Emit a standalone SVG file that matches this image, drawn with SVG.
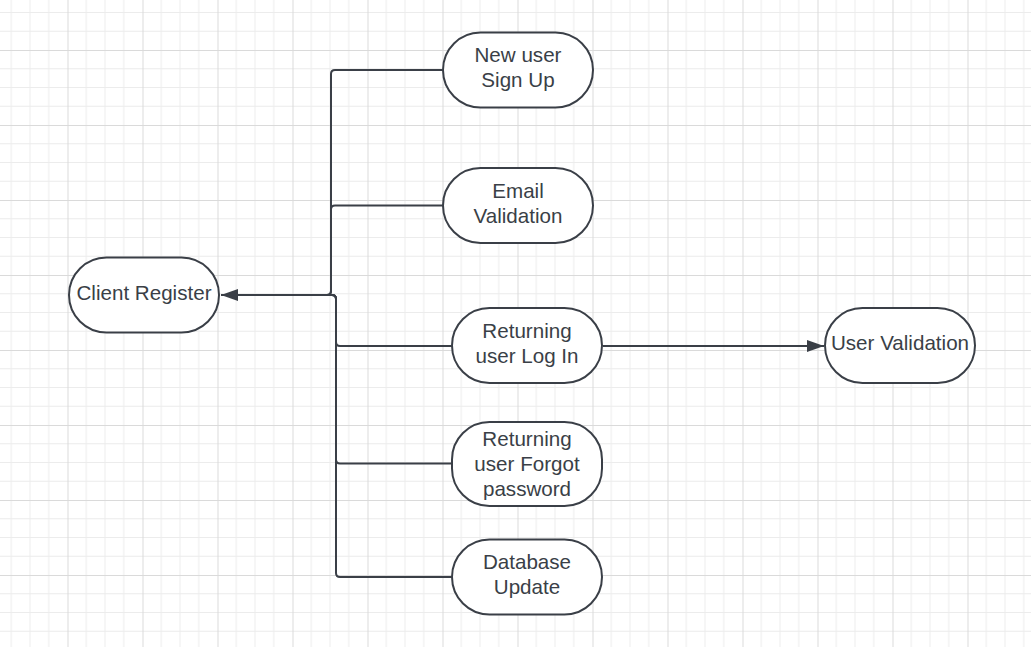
<svg xmlns="http://www.w3.org/2000/svg" width="1031" height="647" viewBox="0 0 1031 647">
  <defs>
    <pattern id="grid" patternUnits="userSpaceOnUse" x="-7.5" y="-25" width="75" height="75">
      <rect width="75" height="75" fill="#ffffff"/>
      <path d="M18.75,0V75M37.5,0V75M56.25,0V75M0,18.75H75M0,37.5H75M0,56.25H75" stroke="#ececec" stroke-width="1" fill="none"/>
      <path d="M0.5,0V75M0,0.5H75" stroke="#dadada" stroke-width="1" fill="none"/>
    </pattern>
    <marker id="arrow" markerUnits="userSpaceOnUse" markerWidth="18" markerHeight="14" refX="17" refY="6" orient="auto">
      <path d="M0,0 L17,6 L0,12 Z" fill="#3a3f47"/>
    </marker>
    <style>
      .node rect { fill: #ffffff; stroke: #3a3f47; stroke-width: 2; }
      .node text { font-family: "Liberation Sans", Arial, sans-serif; font-size: 20.6px; fill: #3a3f47; text-anchor: middle; }
      #connectors path { fill: none; stroke: #3a3f47; stroke-width: 2; }
    </style>
  </defs>
  <rect width="1031" height="647" fill="url(#grid)"/>

  <g id="connectors">
    <path d="M443,70 H335 Q331,70 331,74 V291 Q331,295 327,295 H221" marker-end="url(#arrow)"/>
    <path d="M443,205.5 H335 Q331,205.5 331,209.5 V291 Q331,295 327,295 H221"/>
    <path d="M452,346 H340 Q336,346 336,342 V299 Q336,295 332,295 H221"/>
    <path d="M452,463.5 H340 Q336,463.5 336,459.5 V299 Q336,295 332,295 H221"/>
    <path d="M452,577 H340 Q336,577 336,573 V299 Q336,295 332,295 H221"/>
    <path d="M603,346 H824" marker-end="url(#arrow)"/>
  </g>

  <g id="client-register" class="node">
    <rect x="69" y="257.5" width="150" height="75" rx="37.5" ry="37.5"/>
    <text x="144" y="300">Client Register</text>
  </g>
  <g id="new-user-sign-up" class="node">
    <rect x="443" y="32.5" width="150" height="75" rx="37.5" ry="37.5"/>
    <text x="518" y="62">New user</text>
    <text x="518" y="87">Sign Up</text>
  </g>
  <g id="email-validation" class="node">
    <rect x="443" y="168" width="150" height="75" rx="37.5" ry="37.5"/>
    <text x="518" y="197.5">Email</text>
    <text x="518" y="222.5">Validation</text>
  </g>
  <g id="returning-log-in" class="node">
    <rect x="452" y="308" width="150" height="75" rx="37.5" ry="37.5"/>
    <text x="527" y="338">Returning</text>
    <text x="527" y="363">user Log In</text>
  </g>
  <g id="user-validation" class="node">
    <rect x="825" y="308" width="150" height="75" rx="37.5" ry="37.5"/>
    <text x="900" y="350">User Validation</text>
  </g>
  <g id="returning-forgot" class="node">
    <rect x="452" y="422" width="150" height="84" rx="37.5" ry="37.5"/>
    <text x="527" y="445.5">Returning</text>
    <text x="527" y="470.5">user Forgot</text>
    <text x="527" y="495.5">password</text>
  </g>
  <g id="database-update" class="node">
    <rect x="452" y="539.5" width="150" height="75" rx="37.5" ry="37.5"/>
    <text x="527" y="568.5">Database</text>
    <text x="527" y="593.5">Update</text>
  </g>
</svg>
